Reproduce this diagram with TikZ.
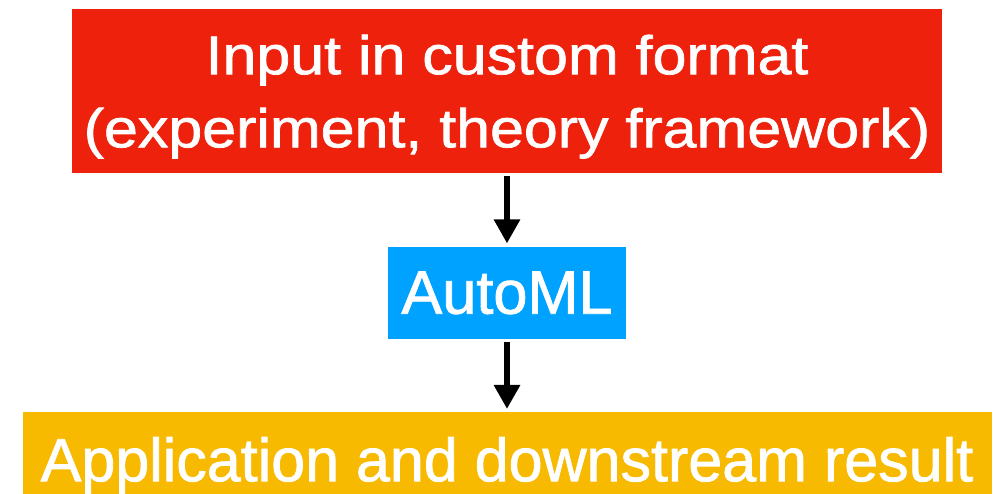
\documentclass[tikz,border=0pt]{standalone}
\usepackage{fontspec}
\setmainfont{Liberation Sans}
\newfontfamily\thicksans[FakeBold=1.3]{Liberation Sans}
\newfontfamily\widesans[FakeStretch=1.12,FakeBold=1.3]{Liberation Sans}
\usetikzlibrary{arrows.meta,positioning}

\definecolor{boxred}{HTML}{EE220C}
\definecolor{boxblue}{HTML}{00A2FF}
\definecolor{boxyellow}{HTML}{F8BA00}

\begin{document}
\begin{tikzpicture}[
  node distance=1.825cm,
  stage/.style={inner sep=0pt,text=white,align=center,text depth=0pt},
  inbox/.style={stage,fill=boxred,minimum width=21.75cm,minimum height=4.1cm,
    font=\widesans\fontsize{38.7}{52}\selectfont},
  mlbox/.style={stage,fill=boxblue,minimum width=5.95cm,minimum height=2.3cm,
    font=\thicksans\fontsize{43.6}{52}\selectfont},
  outbox/.style={stage,fill=boxyellow,minimum width=24.225cm,minimum height=2.35cm,
    font=\thicksans\fontsize{43.4}{52}\selectfont},
  arr/.style={-{Triangle[length=17pt,width=18pt]},line width=3.7pt,
    shorten <=0.075cm,shorten >=0.075cm}
]
\useasboundingbox (0,0) rectangle (25.2,-12.325);

\node[inbox] (input) at (12.675,-2.275) {Input in custom format\\(experiment, theory framework)};
\node[mlbox,below=of input] (automl) {AutoML};
\node[outbox,below=of automl] (result) {Application and downstream result};

\draw[arr] (input) -- (automl);
\draw[arr] (automl) -- (result);
\end{tikzpicture}
\end{document}
